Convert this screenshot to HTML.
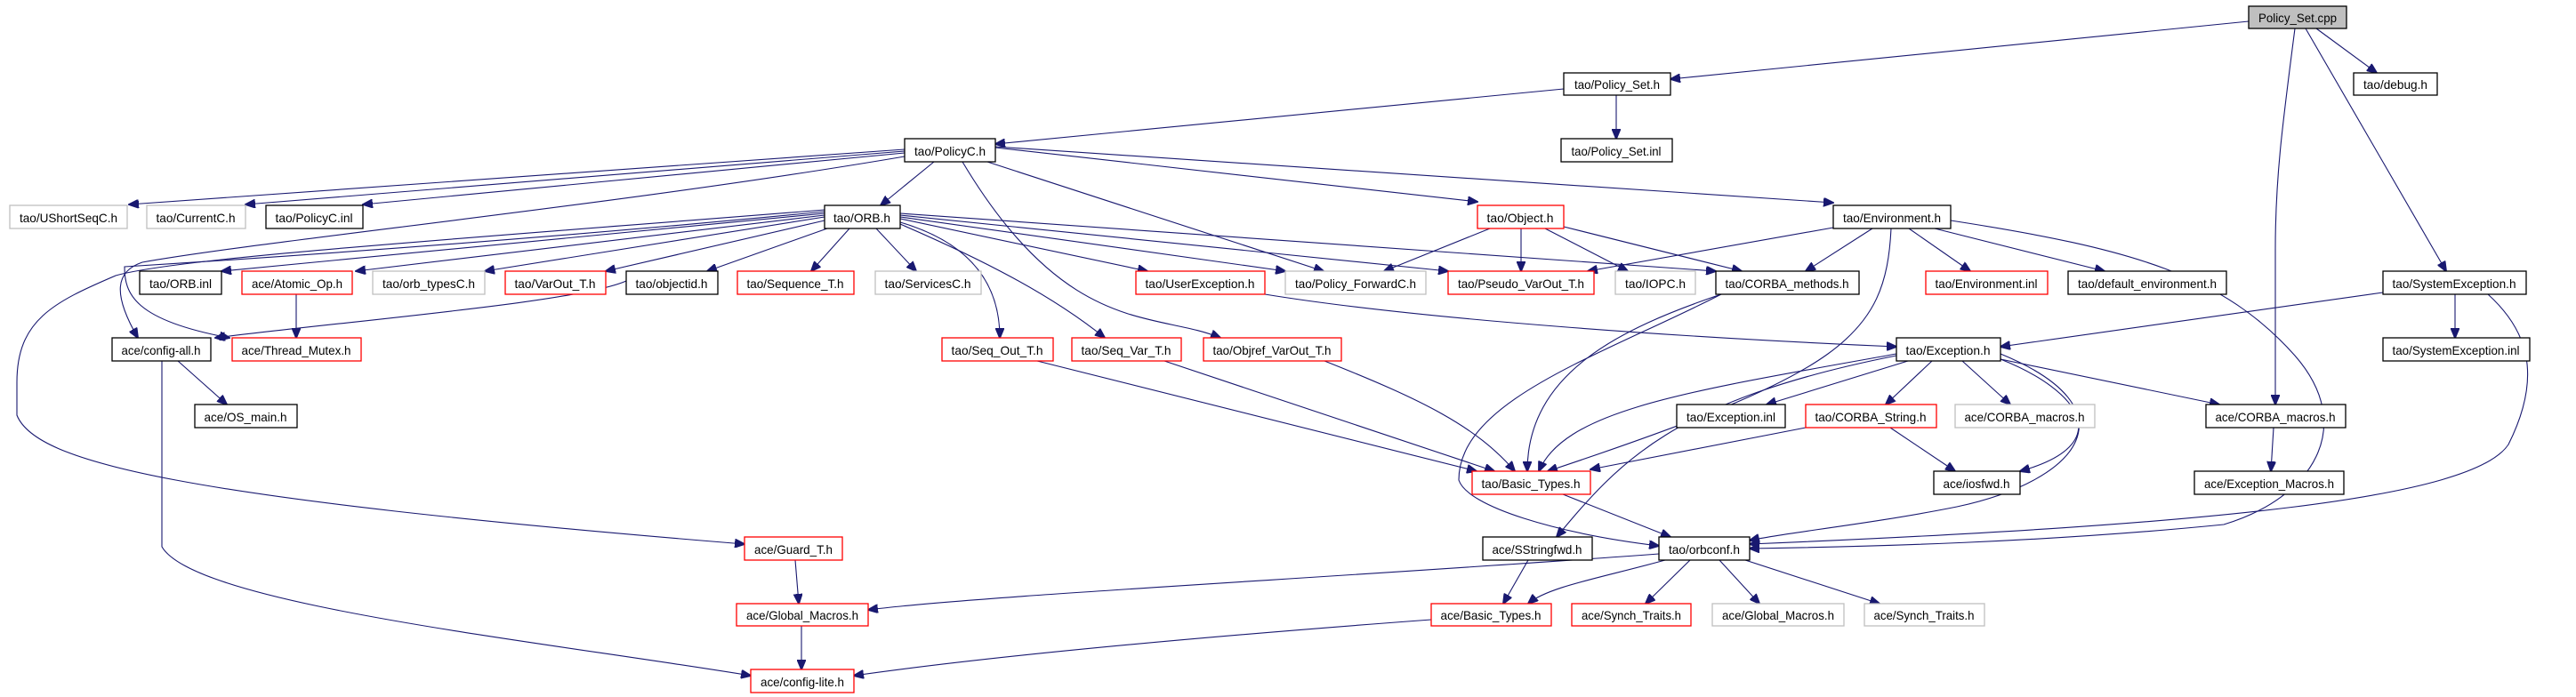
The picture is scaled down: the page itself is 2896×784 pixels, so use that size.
<!DOCTYPE html>
<html><head><meta charset="utf-8"><style>
html,body{margin:0;padding:0;background:#fff;}
svg{display:block;}
text{font-family:"Liberation Sans",sans-serif;font-size:14px;fill:#000;}
path{fill:none;stroke:#191970;stroke-width:1.1;}
</style></head><body>
<svg width="2896" height="784" viewBox="0 0 2896 784" xmlns="http://www.w3.org/2000/svg">
<defs>
<marker id="a" markerUnits="userSpaceOnUse" markerWidth="12" markerHeight="10" refX="11" refY="5" orient="auto">
<path d="M0,0 L12,5 L0,10 Z" style="fill:#191970;stroke:#191970"/>
</marker>
</defs>
<g marker-end="url(#a)">
<!-- Policy_Set.cpp -->
<path d="M2528,24 L1878,89"/>
<path d="M2604,32 L2672,82"/>
<path d="M2592,32 L2750,305"/>
<path d="M2580,32 C2566,140 2558,200 2558,280 L2558,455"/>
<!-- Policy_Set.h -->
<path d="M1758,100 L1119,162"/>
<path d="M1817,107 L1817,156"/>
<!-- PolicyC.h -->
<path d="M1017,168 L145,230"/>
<path d="M1017,170 L276,230"/>
<path d="M1017,172 L408,230"/>
<path d="M1050,182 L990,231"/>
<path d="M1017,176 C700,230 300,270 160,295 C130,305 126,330 155,380"/>
<path d="M1110,182 L1488,305"/>
<path d="M1082,182 C1200,380 1300,350 1372,380"/>
<path d="M1119,166 L1661,227"/>
<path d="M1119,165 L2061,228"/>
<!-- ORB.h -->
<path d="M927,240 L249,305"/>
<path d="M927,242 L400,305"/>
<path d="M927,244 L545,305"/>
<path d="M927,248 L681,305"/>
<path d="M930,257 L795,305"/>
<path d="M955,257 L912,305"/>
<path d="M985,257 L1030,305"/>
<path d="M1012,246 L1290,305"/>
<path d="M1012,244 L1445,305"/>
<path d="M1012,242 L1628,305"/>
<path d="M1012,240 L1929,305"/>
<path d="M1012,250 C1080,270 1124,310 1124,380"/>
<path d="M1012,252 C1100,290 1180,330 1242,380"/>
<path d="M927,238 C600,270 300,290 140,300 C140,330 150,360 258,380"/>
<path d="M927,236 C500,270 200,290 130,310 C60,340 19,360 19,430 L19,467 C40,520 200,560 837,612"/>
<!-- Object.h -->
<path d="M1675,257 L1556,305"/>
<path d="M1710,257 L1710,305"/>
<path d="M1737,257 L1830,305"/>
<path d="M1758,255 L1958,305"/>
<!-- Environment.h -->
<path d="M2061,256 L1785,305"/>
<path d="M2105,257 L2030,305"/>
<path d="M2146,257 L2215,305"/>
<path d="M2175,257 L2366,305"/>
<path d="M2126,257 C2120,380 2070,420 1740,530"/>
<path d="M2193,248 C2400,280 2500,310 2580,400 C2650,480 2600,560 2500,590 C2300,610 2100,615 1967,617"/>
<!-- misc -->
<path d="M704,316 C650,340 400,360 242,380"/>
<path d="M333,331 L333,380"/>
<path d="M1422,331 C1600,360 1900,380 2132,390"/>
<path d="M1935,331 C1820,370 1717,420 1717,530"/>
<path d="M1935,331 C1800,400 1640,450 1640,540 C1650,570 1750,600 1865,614"/>
<path d="M200,406 L255,455"/>
<path d="M182,406 L182,615 C220,680 600,720 844,760"/>
<path d="M1166,406 L1660,530"/>
<path d="M1309,406 L1680,530"/>
<path d="M1489,406 C1600,450 1660,480 1703,530"/>
<!-- SystemException.h -->
<path d="M2679,329 L2249,390"/>
<path d="M2760,331 L2760,380"/>
<path d="M2797,331 C2840,370 2860,420 2820,500 C2780,560 2500,590 1967,612"/>
<!-- Exception.h -->
<path d="M2145,406 L1986,455"/>
<path d="M2172,406 L2120,455"/>
<path d="M2206,406 L2260,455"/>
<path d="M2249,404 L2495,455"/>
<path d="M2249,404 C2340,440 2380,500 2271,530"/>
<path d="M2249,398 C2400,460 2340,540 2200,570 C2100,590 2000,600 1967,608"/>
<path d="M2132,398 C1900,440 1760,460 1730,530"/>
<path d="M2132,400 C1880,450 1820,520 1750,604"/>
<path d="M2030,481 L1788,528"/>
<path d="M2125,481 L2198,530"/>
<path d="M2556,481 L2553,530"/>
<path d="M1757,556 L1878,604"/>
<path d="M1718,630 L1690,679"/>
<path d="M1865,623 C1500,650 1100,670 976,686"/>
<path d="M1872,630 C1800,650 1740,660 1718,679"/>
<path d="M1900,630 L1850,679"/>
<path d="M1933,630 L1978,679"/>
<path d="M1962,630 L2113,679"/>
<path d="M894,630 L898,679"/>
<path d="M901,704 L901,753"/>
<path d="M1609,697 C1300,720 1100,740 960,760"/>
</g>
<g stroke-width="1.3">
<!-- nodes: rect + text -->
<rect x="2528" y="7" width="110" height="25" fill="#bfbfbf" stroke="#000"/><text x="2583" y="25" text-anchor="middle" textLength="88" lengthAdjust="spacingAndGlyphs">Policy_Set.cpp</text>
<rect x="1758" y="82" width="120" height="25" fill="#fff" stroke="#000"/><text x="1818" y="100" text-anchor="middle" textLength="96" lengthAdjust="spacingAndGlyphs">tao/Policy_Set.h</text>
<rect x="2646" y="82" width="94" height="25" fill="#fff" stroke="#000"/><text x="2693" y="100" text-anchor="middle" textLength="72" lengthAdjust="spacingAndGlyphs">tao/debug.h</text>
<rect x="1017" y="156" width="102" height="26" fill="#fff" stroke="#000"/><text x="1068" y="175" text-anchor="middle" textLength="80" lengthAdjust="spacingAndGlyphs">tao/PolicyC.h</text>
<rect x="1755" y="156" width="125" height="26" fill="#fff" stroke="#000"/><text x="1817" y="175" text-anchor="middle" textLength="101" lengthAdjust="spacingAndGlyphs">tao/Policy_Set.inl</text>

<rect x="11" y="231" width="132" height="26" fill="#fff" stroke="#bfbfbf"/><text x="77" y="250" text-anchor="middle" textLength="110" lengthAdjust="spacingAndGlyphs">tao/UShortSeqC.h</text>
<rect x="165" y="231" width="111" height="26" fill="#fff" stroke="#bfbfbf"/><text x="220" y="250" text-anchor="middle" textLength="89" lengthAdjust="spacingAndGlyphs">tao/CurrentC.h</text>
<rect x="299" y="231" width="109" height="26" fill="#fff" stroke="#000"/><text x="353" y="250" text-anchor="middle" textLength="87" lengthAdjust="spacingAndGlyphs">tao/PolicyC.inl</text>
<rect x="927" y="231" width="85" height="26" fill="#fff" stroke="#000"/><text x="969" y="250" text-anchor="middle" textLength="64" lengthAdjust="spacingAndGlyphs">tao/ORB.h</text>
<rect x="1661" y="231" width="97" height="26" fill="#fff" stroke="#f00"/><text x="1709" y="250" text-anchor="middle" textLength="75" lengthAdjust="spacingAndGlyphs">tao/Object.h</text>
<rect x="2061" y="231" width="132" height="26" fill="#fff" stroke="#000"/><text x="2127" y="250" text-anchor="middle" textLength="110" lengthAdjust="spacingAndGlyphs">tao/Environment.h</text>

<rect x="157" y="305" width="92" height="26" fill="#fff" stroke="#000"/><text x="203" y="324" text-anchor="middle" textLength="70" lengthAdjust="spacingAndGlyphs">tao/ORB.inl</text>
<rect x="272" y="305" width="124" height="26" fill="#fff" stroke="#f00"/><text x="334" y="324" text-anchor="middle" textLength="102" lengthAdjust="spacingAndGlyphs">ace/Atomic_Op.h</text>
<rect x="419" y="305" width="126" height="26" fill="#fff" stroke="#bfbfbf"/><text x="482" y="324" text-anchor="middle" textLength="104" lengthAdjust="spacingAndGlyphs">tao/orb_typesC.h</text>
<rect x="568" y="305" width="113" height="26" fill="#fff" stroke="#f00"/><text x="624" y="324" text-anchor="middle" textLength="91" lengthAdjust="spacingAndGlyphs">tao/VarOut_T.h</text>
<rect x="704" y="305" width="103" height="26" fill="#fff" stroke="#000"/><text x="755" y="324" text-anchor="middle" textLength="81" lengthAdjust="spacingAndGlyphs">tao/objectid.h</text>
<rect x="829" y="305" width="131" height="26" fill="#fff" stroke="#f00"/><text x="894" y="324" text-anchor="middle" textLength="109" lengthAdjust="spacingAndGlyphs">tao/Sequence_T.h</text>
<rect x="984" y="305" width="119" height="26" fill="#fff" stroke="#bfbfbf"/><text x="1043" y="324" text-anchor="middle" textLength="97" lengthAdjust="spacingAndGlyphs">tao/ServicesC.h</text>
<rect x="1277" y="305" width="145" height="26" fill="#fff" stroke="#f00"/><text x="1349" y="324" text-anchor="middle" textLength="123" lengthAdjust="spacingAndGlyphs">tao/UserException.h</text>
<rect x="1445" y="305" width="158" height="26" fill="#fff" stroke="#bfbfbf"/><text x="1524" y="324" text-anchor="middle" textLength="136" lengthAdjust="spacingAndGlyphs">tao/Policy_ForwardC.h</text>
<rect x="1628" y="305" width="164" height="26" fill="#fff" stroke="#f00"/><text x="1710" y="324" text-anchor="middle" textLength="142" lengthAdjust="spacingAndGlyphs">tao/Pseudo_VarOut_T.h</text>
<rect x="1816" y="305" width="90" height="26" fill="#fff" stroke="#bfbfbf"/><text x="1861" y="324" text-anchor="middle" textLength="68" lengthAdjust="spacingAndGlyphs">tao/IOPC.h</text>
<rect x="1929" y="305" width="161" height="26" fill="#fff" stroke="#000"/><text x="2009" y="324" text-anchor="middle" textLength="139" lengthAdjust="spacingAndGlyphs">tao/CORBA_methods.h</text>
<rect x="2165" y="305" width="137" height="26" fill="#fff" stroke="#f00"/><text x="2233" y="324" text-anchor="middle" textLength="115" lengthAdjust="spacingAndGlyphs">tao/Environment.inl</text>
<rect x="2325" y="305" width="178" height="26" fill="#fff" stroke="#000"/><text x="2414" y="324" text-anchor="middle" textLength="156" lengthAdjust="spacingAndGlyphs">tao/default_environment.h</text>
<rect x="2679" y="305" width="161" height="26" fill="#fff" stroke="#000"/><text x="2759" y="324" text-anchor="middle" textLength="139" lengthAdjust="spacingAndGlyphs">tao/SystemException.h</text>

<rect x="126" y="380" width="111" height="26" fill="#fff" stroke="#000"/><text x="181" y="399" text-anchor="middle" textLength="89" lengthAdjust="spacingAndGlyphs">ace/config-all.h</text>
<rect x="261" y="380" width="145" height="26" fill="#fff" stroke="#f00"/><text x="333" y="399" text-anchor="middle" textLength="123" lengthAdjust="spacingAndGlyphs">ace/Thread_Mutex.h</text>
<rect x="1059" y="380" width="125" height="26" fill="#fff" stroke="#f00"/><text x="1121" y="399" text-anchor="middle" textLength="103" lengthAdjust="spacingAndGlyphs">tao/Seq_Out_T.h</text>
<rect x="1205" y="380" width="123" height="26" fill="#fff" stroke="#f00"/><text x="1266" y="399" text-anchor="middle" textLength="101" lengthAdjust="spacingAndGlyphs">tao/Seq_Var_T.h</text>
<rect x="1353" y="380" width="155" height="26" fill="#fff" stroke="#f00"/><text x="1430" y="399" text-anchor="middle" textLength="133" lengthAdjust="spacingAndGlyphs">tao/Objref_VarOut_T.h</text>
<rect x="2132" y="380" width="117" height="26" fill="#fff" stroke="#000"/><text x="2190" y="399" text-anchor="middle" textLength="95" lengthAdjust="spacingAndGlyphs">tao/Exception.h</text>
<rect x="2679" y="380" width="165" height="26" fill="#fff" stroke="#000"/><text x="2761" y="399" text-anchor="middle" textLength="143" lengthAdjust="spacingAndGlyphs">tao/SystemException.inl</text>

<rect x="219" y="455" width="115" height="26" fill="#fff" stroke="#000"/><text x="276" y="474" text-anchor="middle" textLength="93" lengthAdjust="spacingAndGlyphs">ace/OS_main.h</text>
<rect x="1885" y="455" width="122" height="26" fill="#fff" stroke="#000"/><text x="1946" y="474" text-anchor="middle" textLength="100" lengthAdjust="spacingAndGlyphs">tao/Exception.inl</text>
<rect x="2030" y="455" width="147" height="26" fill="#fff" stroke="#f00"/><text x="2103" y="474" text-anchor="middle" textLength="125" lengthAdjust="spacingAndGlyphs">tao/CORBA_String.h</text>
<rect x="2198" y="455" width="157" height="26" fill="#fff" stroke="#bfbfbf"/><text x="2276" y="474" text-anchor="middle" textLength="135" lengthAdjust="spacingAndGlyphs">ace/CORBA_macros.h</text>
<rect x="2480" y="455" width="157" height="26" fill="#fff" stroke="#000"/><text x="2558" y="474" text-anchor="middle" textLength="135" lengthAdjust="spacingAndGlyphs">ace/CORBA_macros.h</text>

<rect x="1655" y="530" width="133" height="26" fill="#fff" stroke="#f00"/><text x="1721" y="549" text-anchor="middle" textLength="111" lengthAdjust="spacingAndGlyphs">tao/Basic_Types.h</text>
<rect x="2174" y="530" width="97" height="26" fill="#fff" stroke="#000"/><text x="2222" y="549" text-anchor="middle" textLength="75" lengthAdjust="spacingAndGlyphs">ace/iosfwd.h</text>
<rect x="2467" y="530" width="168" height="26" fill="#fff" stroke="#000"/><text x="2551" y="549" text-anchor="middle" textLength="146" lengthAdjust="spacingAndGlyphs">ace/Exception_Macros.h</text>

<rect x="837" y="604" width="110" height="26" fill="#fff" stroke="#f00"/><text x="892" y="623" text-anchor="middle" textLength="88" lengthAdjust="spacingAndGlyphs">ace/Guard_T.h</text>
<rect x="1667" y="604" width="123" height="26" fill="#fff" stroke="#000"/><text x="1728" y="623" text-anchor="middle" textLength="101" lengthAdjust="spacingAndGlyphs">ace/SStringfwd.h</text>
<rect x="1865" y="604" width="102" height="26" fill="#fff" stroke="#000"/><text x="1916" y="623" text-anchor="middle" textLength="80" lengthAdjust="spacingAndGlyphs">tao/orbconf.h</text>

<rect x="828" y="679" width="148" height="25" fill="#fff" stroke="#f00"/><text x="902" y="697" text-anchor="middle" textLength="126" lengthAdjust="spacingAndGlyphs">ace/Global_Macros.h</text>
<rect x="1609" y="679" width="135" height="25" fill="#fff" stroke="#f00"/><text x="1676" y="697" text-anchor="middle" textLength="113" lengthAdjust="spacingAndGlyphs">ace/Basic_Types.h</text>
<rect x="1767" y="679" width="134" height="25" fill="#fff" stroke="#f00"/><text x="1834" y="697" text-anchor="middle" textLength="112" lengthAdjust="spacingAndGlyphs">ace/Synch_Traits.h</text>
<rect x="1925" y="679" width="148" height="25" fill="#fff" stroke="#bfbfbf"/><text x="1999" y="697" text-anchor="middle" textLength="126" lengthAdjust="spacingAndGlyphs">ace/Global_Macros.h</text>
<rect x="2096" y="679" width="135" height="25" fill="#fff" stroke="#bfbfbf"/><text x="2163" y="697" text-anchor="middle" textLength="113" lengthAdjust="spacingAndGlyphs">ace/Synch_Traits.h</text>

<rect x="844" y="753" width="116" height="26" fill="#fff" stroke="#f00"/><text x="902" y="772" text-anchor="middle" textLength="94" lengthAdjust="spacingAndGlyphs">ace/config-lite.h</text>
</g>
</svg>
</body></html>
